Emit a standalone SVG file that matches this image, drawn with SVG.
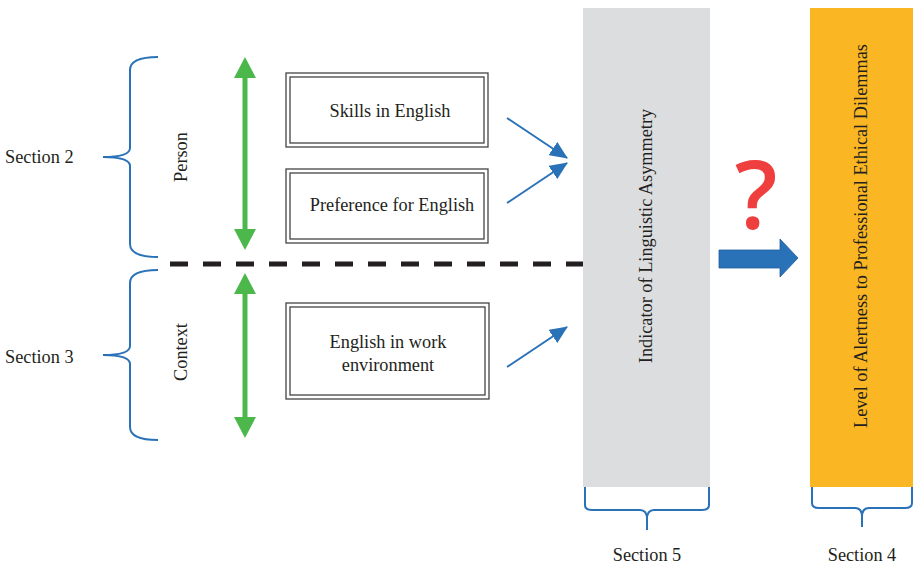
<svg xmlns="http://www.w3.org/2000/svg" width="915" height="564" viewBox="0 0 915 564">
<style>
text{font-family:"Liberation Serif","DejaVu Serif",serif;fill:#231f20;font-size:18.3px}
.brace{fill:none;stroke:#2a72b8;stroke-width:2}
.box{fill:#fff;stroke:#444;stroke-width:1.3}
.boxi{fill:none;stroke:#444;stroke-width:1.3}
.green{stroke:#4cb84c;stroke-width:5}
.blue{stroke:#2a72b8;stroke-width:2;fill:none}
</style>
<defs>
<marker id="bh" viewBox="0 0 18 16" refX="17" refY="8" markerWidth="18" markerHeight="16" markerUnits="userSpaceOnUse" orient="auto">
<path d="M0,0 L18,8 L0,16 z" fill="#2a72b8"/>
</marker>
</defs>
<rect x="583" y="8" width="127" height="479" fill="#dcdddf"/>
<rect x="810" y="8" width="103" height="479" fill="#fbb723"/>

<g id="braces">
<path class="brace" d="M158,57 Q130,57 130,70 L130,148 Q130,157 103,157 Q130,157 130,166 L130,244 Q130,257 158,257"/>
<path class="brace" d="M158,270 Q130,270 130,283 L130,346 Q130,355 103,355 Q130,355 130,364 L130,427 Q130,440 158,440"/>
<path class="brace" d="M585,487 L585,505 Q585,510 592,510 L640,510 Q647,510 647,519 L647,530 M647,519 Q647,510 654,510 L702,510 Q709,510 709,505 L709,487"/>
<path class="brace" d="M812,487 L812,503 Q812,508 819,508 L855,508 Q862,508 862,517 L862,527 M862,517 Q862,508 869,508 L905,508 Q912,508 912,503 L912,487"/>
</g>
<text x="5" y="163">Section 2</text>
<text x="5" y="363">Section 3</text>
<text x="647" y="561" text-anchor="middle">Section 5</text>
<text x="862" y="561" text-anchor="middle">Section 4</text>
<text transform="translate(187,157) rotate(-90)" text-anchor="middle">Person</text>
<text transform="translate(187,352) rotate(-90)" text-anchor="middle">Context</text>

<g id="connectors">
<line x1="170" y1="264" x2="583" y2="264" stroke="#231f20" stroke-width="5" stroke-dasharray="18,15"/>
<line class="green" x1="245" y1="76" x2="245" y2="232"/>
<path d="M245,57 L234,78 L256,78 z" fill="#4cb84c"/>
<path d="M245,250 L234,229 L256,229 z" fill="#4cb84c"/>
<line class="green" x1="245" y1="292" x2="245" y2="420"/>
<path d="M245,273 L234,294 L256,294 z" fill="#4cb84c"/>
<path d="M245,438 L234,417 L256,417 z" fill="#4cb84c"/>
<path d="M507,118 L567,158" class="blue" marker-end="url(#bh)"/>
<path d="M507,203 L567,163" class="blue" marker-end="url(#bh)"/>
<path d="M507,367 L567,327" class="blue" marker-end="url(#bh)"/>
<path d="M719,250 L780,250 L780,239 L798,258 L780,277 L780,268 L719,268 z" fill="#2a72b8" stroke="#1f5e9c" stroke-width="0.8"/>
</g>

<g id="skills">
<rect class="box" x="286" y="73" width="202" height="74"/>
<rect class="boxi" x="290" y="77" width="194" height="66"/>
<text x="390" y="117" text-anchor="middle">Skills in English</text>
</g>
<g id="preference">
<rect class="box" x="286" y="169" width="202" height="74"/>
<rect class="boxi" x="290" y="173" width="194" height="66"/>
<text x="392" y="211" text-anchor="middle">Preference for English</text>
</g>
<g id="work">
<rect class="box" x="286" y="303" width="203" height="96"/>
<rect class="boxi" x="290" y="307" width="195" height="88"/>
<text x="388" y="348" text-anchor="middle">English in work</text>
<text x="388" y="371" text-anchor="middle">environment</text>
</g>
<g id="indicator">
<text transform="translate(652,236) rotate(-90)" text-anchor="middle">Indicator of Linguistic Asymmetry</text>
</g>
<g id="level">
<text transform="translate(867,236) rotate(-90)" text-anchor="middle">Level of Alertness to Professional Ethical Dilemmas</text>
</g>
<text x="756" y="229" text-anchor="middle" style="font-family:'Open Sans','DejaVu Sans',sans-serif;font-weight:600;font-size:94px;fill:#ee3e3e">?</text>
</svg>
